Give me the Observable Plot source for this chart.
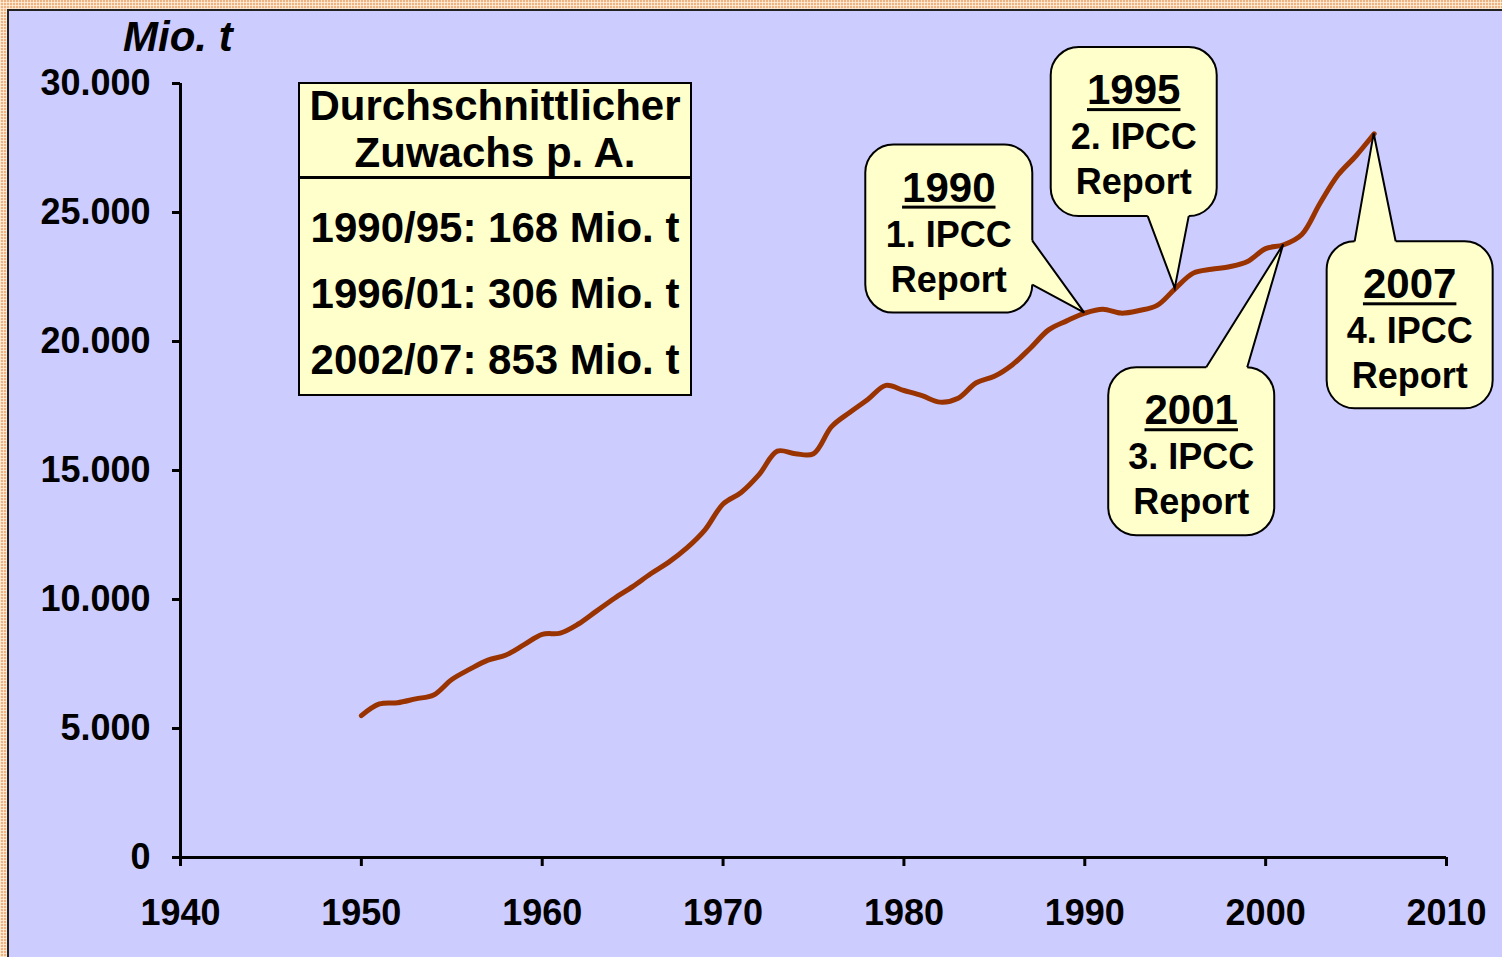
<!DOCTYPE html>
<html><head><meta charset="utf-8">
<script src="https://cdn.jsdelivr.net/npm/d3@7"></script>
<script src="https://cdn.jsdelivr.net/npm/@observablehq/plot@0.6"></script>
<style>
html,body{margin:0;padding:0;}
body{width:1502px;height:957px;overflow:hidden;position:relative;
 background-color:#EDB383;
 background-image:
  repeating-linear-gradient(90deg, rgba(255,240,220,0.8) 0 1px, transparent 1px 3px),
  repeating-linear-gradient(0deg, rgba(255,240,220,0.8) 0 1px, transparent 1px 3px);
 font-family:"Liberation Sans", Arial, sans-serif;}
#panel{position:absolute;left:7px;top:9px;right:0;bottom:0;background:#CCCCFF;border-left:2px solid #222;border-top:2px solid #222;}
#chart{position:absolute;left:0;top:0;}
#table{position:absolute;left:298px;top:82px;width:394px;height:314px;box-sizing:border-box;border:2px solid #000;background:#FFFFCC;font-weight:bold;text-align:center;color:#000;}
#table .head{height:94px;border-bottom:3px solid #000;font-size:42px;line-height:47px;margin-top:-2px;}
#table .body{padding-top:16px;font-size:42px;line-height:66px;}
</style></head>
<body>
<div id="panel"></div>
<div id="chart"></div>
<div id="table">
  <div class="head" id="thead"></div>
  <div class="body" id="tbody"></div>
</div>
<script>
// ---- data ----
const years = [1950,1951,1952,1953,1954,1955,1956,1957,1958,1959,
  1960,1961,1962,1963,1964,1965,1966,1967,1968,1969,
  1970,1971,1972,1973,1974,1975,1976,1977,1978,1979,
  1980,1981,1982,1983,1984,1985,1986,1987,1988,1989,
  1990,1991,1992,1993,1994,1995,1996,1997,1998,1999,
  2000,2001,2002,2003,2004,2005,2006];
const values = [5500,5950,6000,6150,6300,6900,7300,7650,7850,8250,
  8650,8700,9050,9550,10050,10500,11000,11450,12000,12700,
  13700,14150,14850,15750,15650,15650,16700,17250,17750,18300,
  18100,17900,17650,17800,18400,18650,19100,19750,20450,20800,
  21100,21250,21100,21200,21400,22050,22650,22800,22900,23100,
  23600,23750,24150,25350,26450,27200,28050];
const xTicks = [1940,1950,1960,1970,1980,1990,2000,2010];
const yTicks = [0,5000,10000,15000,20000,25000,30000];
const unitLabel = "Mio. t";
const tableHeader = ["Durchschnittlicher","Zuwachs p. A."];
const tableRows = ["1990/95: 168 Mio. t","1996/01: 306 Mio. t","2002/07: 853 Mio. t"];
const calloutYears = [1990,1995,2001,2006];
const calloutTitles = ["1990","1995","2001","2007"];
const calloutLines = [["1. IPCC","Report"],["2. IPCC","Report"],["3. IPCC","Report"],["4. IPCC","Report"]];

// ---- layout of callouts (pixel offsets from the tip) ----
const calloutLayout = [
  {box:[-219,-52,-168,0], side:"right", base:[-72,-28]},
  {box:[-124,42,-241,-72], side:"bottom", base:[-27,14]},
  {box:[-175,-9,123,291], side:"top", base:[-77,-36]},
  {box:[-47,119,108,275], side:"top", base:[-19,22]}
];

const series = years.map((y,i)=>({year:y, value:values[i]}));
const fmt = d => d3.format(",")(d).replace(/,/g,".");
const FONT = "Liberation Sans, Arial, sans-serif";

const plot = Plot.plot({
  width:1502, height:957,
  marginLeft:180, marginRight:56, marginTop:83, marginBottom:100,
  x:{domain:[1940,2010]},
  y:{domain:[0,30000]},
  style:{background:"transparent", fontFamily:FONT, color:"#000", overflow:"visible"},
  marks:[
    Plot.axisY({ticks:yTicks, tickSize:8, tickPadding:22, tickFormat:fmt, fontSize:36, fontWeight:"bold", strokeWidth:3, label:null}),
    Plot.axisX({ticks:xTicks, tickSize:9, tickPadding:33, tickFormat:d=>String(d), fontSize:36, fontWeight:"bold", strokeWidth:3, label:null}),
    Plot.ruleX([1940], {strokeWidth:3}),
    Plot.ruleY([0], {strokeWidth:3}),
    Plot.line(series, {x:"year", y:"value", stroke:"#993300", strokeWidth:5, curve:"catmull-rom"})
  ]
});
document.getElementById("chart").appendChild(plot);

const sx = plot.scale("x").apply, sy = plot.scale("y").apply;
const svg = d3.select(plot);

svg.append("text").attr("x",123).attr("y",51).attr("text-anchor","start")
  .attr("font-family",FONT).attr("font-size",42).attr("font-weight","bold").attr("font-style","italic")
  .attr("fill","#000").text(unitLabel);

const g = svg.append("g");
calloutYears.forEach((yr,i)=>{
  const L = calloutLayout[i];
  const tx = sx(yr), ty = sy(values[years.indexOf(yr)]);
  const x0=tx+L.box[0], x1=tx+L.box[1], y0=ty+L.box[2], y1=ty+L.box[3];
  g.append("rect").attr("x",x0).attr("y",y0).attr("width",x1-x0).attr("height",y1-y0)
    .attr("rx",28).attr("ry",28).attr("fill","#FFFFCC").attr("stroke","#000").attr("stroke-width",2);
  let b1,b2,in1,in2;
  if (L.side==="right"){b1=[x1,ty+L.base[0]];b2=[x1,ty+L.base[1]];in1=[x1-5,b1[1]];in2=[x1-5,b2[1]];}
  else if (L.side==="bottom"){b1=[tx+L.base[0],y1];b2=[tx+L.base[1],y1];in1=[b1[0],y1-5];in2=[b2[0],y1-5];}
  else {b1=[tx+L.base[0],y0];b2=[tx+L.base[1],y0];in1=[b1[0],y0+5];in2=[b2[0],y0+5];}
  g.append("polygon").attr("points",[in1,b1,[tx,ty],b2,in2].map(p=>p.join(",")).join(" ")).attr("fill","#FFFFCC");
  g.append("polyline").attr("points",[b1,[tx,ty],b2].map(p=>p.join(",")).join(" "))
    .attr("fill","none").attr("stroke","#000").attr("stroke-width",2).attr("stroke-linejoin","miter");
  const cx=(x0+x1)/2;
  const t = g.append("text").attr("x",cx).attr("y",y0+57).attr("text-anchor","middle")
    .attr("font-family",FONT).attr("font-size",42).attr("font-weight","bold").attr("fill","#000").text(calloutTitles[i]);
  const bb = t.node().getBBox();
  g.append("rect").attr("x",bb.x).attr("y",y0+61).attr("width",bb.width).attr("height",3).attr("fill","#000");
  calloutLines[i].forEach((s,j)=>{
    g.append("text").attr("x",cx).attr("y",y0+102+45*j).attr("text-anchor","middle")
      .attr("font-family",FONT).attr("font-size",36).attr("font-weight","bold").attr("fill","#000").text(s);
  });
});

document.getElementById("thead").innerHTML = tableHeader.map(s=>`<div>${s}</div>`).join("");
document.getElementById("tbody").innerHTML = tableRows.map(s=>`<div>${s}</div>`).join("");
</script>
</body></html>
